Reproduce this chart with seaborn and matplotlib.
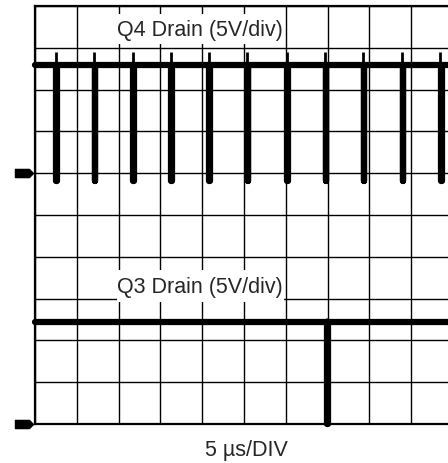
import numpy as np
import pandas as pd
import matplotlib.pyplot as plt
from matplotlib.path import Path
from matplotlib.patches import Rectangle
import seaborn as sns

# scope settings
us_per_div = 5
volts_per_div = 5
n_div = 10

# Q4 drain: switching spikes (time in us, levels in V)
q4_spike_t = [2.6, 7.2, 11.8, 16.35, 20.9, 25.5, 30.2, 34.8, 39.35, 44.0, 48.6]
q4_high = 12.9
q4_low = -0.9
q4_over = 14.5
q4_ground_div = 6

# Q3 drain: single spike
q3_spike_t = [35.0]
q3_high = 12.2
q3_low = 0.0
q3_over = 12.7
q3_ground_div = 0


def build_trace(spikes, high, low, ground_div, w=0.03):
    t = [0.0]
    v = [high]
    for s in spikes:
        t += [s - w, s - w, s + w, s + w]
        v += [high, low, low, high]
    t.append(n_div * us_per_div)
    v.append(high)
    df = pd.DataFrame({'t': t, 'v': v})
    df['div'] = ground_div + df['v'] / volts_per_div
    return df


q4 = build_trace(q4_spike_t, q4_high, q4_low, q4_ground_div)
q3 = build_trace(q3_spike_t, q3_high, q3_low, q3_ground_div)

sns.set_style("white")
plt.rcParams['font.family'] = ['Liberation Sans', 'DejaVu Sans']

fig = plt.figure(figsize=(4.48, 4.64), dpi=100)
ax = fig.add_axes([35 / 448, 39 / 464, 418 / 448, 418 / 464])
ax.set_xlim(0, n_div * us_per_div)
ax.set_ylim(0, n_div)
ax.set_xticks(np.arange(0, n_div * us_per_div + 1, us_per_div))
ax.set_yticks(np.arange(0, n_div + 1, 1))
ax.tick_params(length=0, labelbottom=False, labelleft=False)
ax.grid(True, color='black', lw=1.0)
ax.set_axisbelow(True)
for sp in ax.spines.values():
    sp.set_color('black')
    sp.set_linewidth(1.6)

# label boxes hide the grid behind them
for y0, y1 in [(0.909, 0.981), (0.292, 0.368)]:
    ax.add_patch(Rectangle((0.196, y0), 0.4, y1 - y0, transform=ax.transAxes,
                           facecolor='white', edgecolor='none', zorder=1.5))

sns.lineplot(data=q4, x='t', y='div', sort=False, estimator=None, color='black',
             lw=4.5, ax=ax, zorder=3, clip_on=False)
sns.lineplot(data=q3, x='t', y='div', sort=False, estimator=None, color='black',
             lw=4.5, ax=ax, zorder=3, clip_on=False)

# small overshoot at each edge
ax.vlines([s - 0.1 for s in q4_spike_t], q4_ground_div + q4_high / volts_per_div,
          q4_ground_div + q4_over / volts_per_div, color='black', lw=2, zorder=3)
ax.vlines([s - 0.1 for s in q3_spike_t], q3_ground_div + q3_high / volts_per_div,
          q3_ground_div + q3_over / volts_per_div, color='black', lw=2, zorder=3)
ax.set_xlabel('')
ax.set_ylabel('')

ax.text(0.395, 0.9306, 'Q4 Drain (5V/div)', transform=ax.transAxes, ha='center',
        va='baseline', fontsize=15.5, zorder=4)
ax.text(0.395, 0.3158, 'Q3 Drain (5V/div)', transform=ax.transAxes, ha='center',
        va='baseline', fontsize=15.5, zorder=4)

# ground reference markers
gnd = Path([(-1, -0.45), (0.55, -0.45), (1, 0), (0.55, 0.45), (-1, 0.45), (-1, -0.45)],
           [Path.MOVETO, Path.LINETO, Path.LINETO, Path.LINETO, Path.LINETO, Path.CLOSEPOLY])
trans = ax.get_yaxis_transform()
ax.plot([-0.026, -0.026], [q4_ground_div, q3_ground_div], ls='none', marker=gnd,
        markersize=13, color='black', transform=trans, clip_on=False)

fig.text(246.5 / 448, 8 / 464, '5 µs/DIV', ha='center', va='baseline', fontsize=15.5)

fig.savefig('out.png', dpi=100)
